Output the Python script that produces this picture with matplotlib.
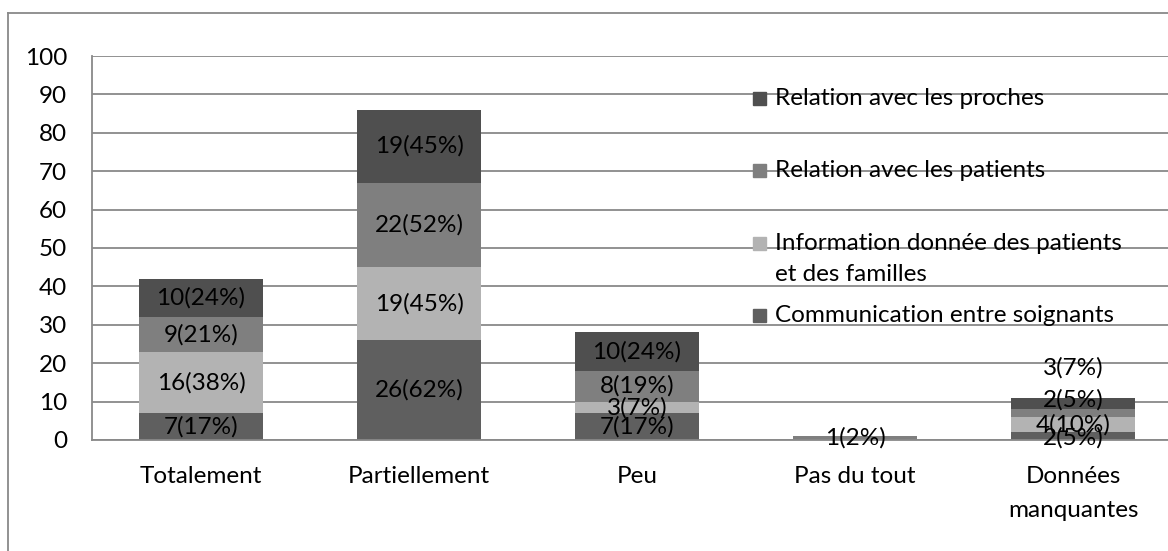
import numpy as np
import matplotlib.pyplot as plt
from matplotlib.lines import Line2D
from matplotlib.patches import Rectangle

plt.rcParams['font.family'] = ['Lato', 'DejaVu Sans']
FS = 17.5

categories = ["Totalement", "Partiellement", "Peu", "Pas du tout", "Données\nmanquantes"]
series_names = ["Communication entre soignants",
                "Information donnée des patients\net des familles",
                "Relation avec les patients",
                "Relation avec les proches"]
communication = [7, 26, 7, 0, 2]
information = [16, 19, 3, 0, 4]
rel_patients = [9, 22, 8, 1, 2]
rel_proches = [10, 19, 10, 0, 3]
n_resp = 42

series = [communication, information, rel_patients, rel_proches]
colors = ['#5f5f5f', '#b3b3b3', '#7f7f7f', '#4f4f4f']
grid_c = '#898989'

# Excel nudged the crowded labels of the last bar
label_y = {(4, 0): 0.5, (4, 2): 10.4, (4, 3): 18.7}

fig = plt.figure(figsize=(11.68, 5.51), dpi=100)
ax = fig.add_axes([92/1168, 111/551, 1090/1168, 384/551])

x = np.arange(len(categories))
bottom = np.zeros(len(categories))
for si, (vals, c) in enumerate(zip(series, colors)):
    vals = np.array(vals, dtype=float)
    ax.bar(x, vals, 0.57, bottom=bottom, color=c, zorder=2)
    for i, v in enumerate(vals):
        if v > 0:
            y = label_y.get((i, si), bottom[i] + v / 2)
            ax.text(x[i], y, f"{int(v)}({round(v / n_resp * 100):.0f}%)",
                    ha='center', va='center', fontsize=FS, color='black', zorder=3)
    bottom += vals

ax.set_xlim(-0.5, 4.5)
ax.set_ylim(0, 100)
ax.set_yticks(np.arange(0, 101, 10))
ax.set_xticks(x)
ax.set_xticklabels(categories, linespacing=1.8)
ax.tick_params(axis='both', length=0, labelsize=FS)
ax.tick_params(axis='y', pad=18)
ax.tick_params(axis='x', pad=18.5)
ax.grid(axis='y', color=grid_c, lw=1.3, zorder=0)
for s in ['top', 'right']:
    ax.spines[s].set_visible(False)
for s in ['left', 'bottom']:
    ax.spines[s].set_color(grid_c)
    ax.spines[s].set_linewidth(1.3)

# legend placed by hand, the way Excel spread it (y of first text line)
leg_y = [98, 170, 243, 315]
leg_order = [3, 2, 1, 0]
for yy, si in zip(leg_y, leg_order):
    fy = 1 - yy / 551
    fig.patches.append(Rectangle((753/1168, fy - 6.5/551), 13/1168, 13/551,
                                 transform=fig.transFigure, color=colors[si]))
    fig.text(775/1168, fy + 10/551, series_names[si], ha='left', va='top',
             fontsize=FS, linespacing=1.6)

# chart area border
fig.add_artist(Line2D([8/1168, 8/1168], [0, 1 - 13/551], color=grid_c, lw=1.3))
fig.add_artist(Line2D([8/1168, 1], [1 - 13/551, 1 - 13/551], color=grid_c, lw=1.3))

fig.savefig("out.png", dpi=100)
